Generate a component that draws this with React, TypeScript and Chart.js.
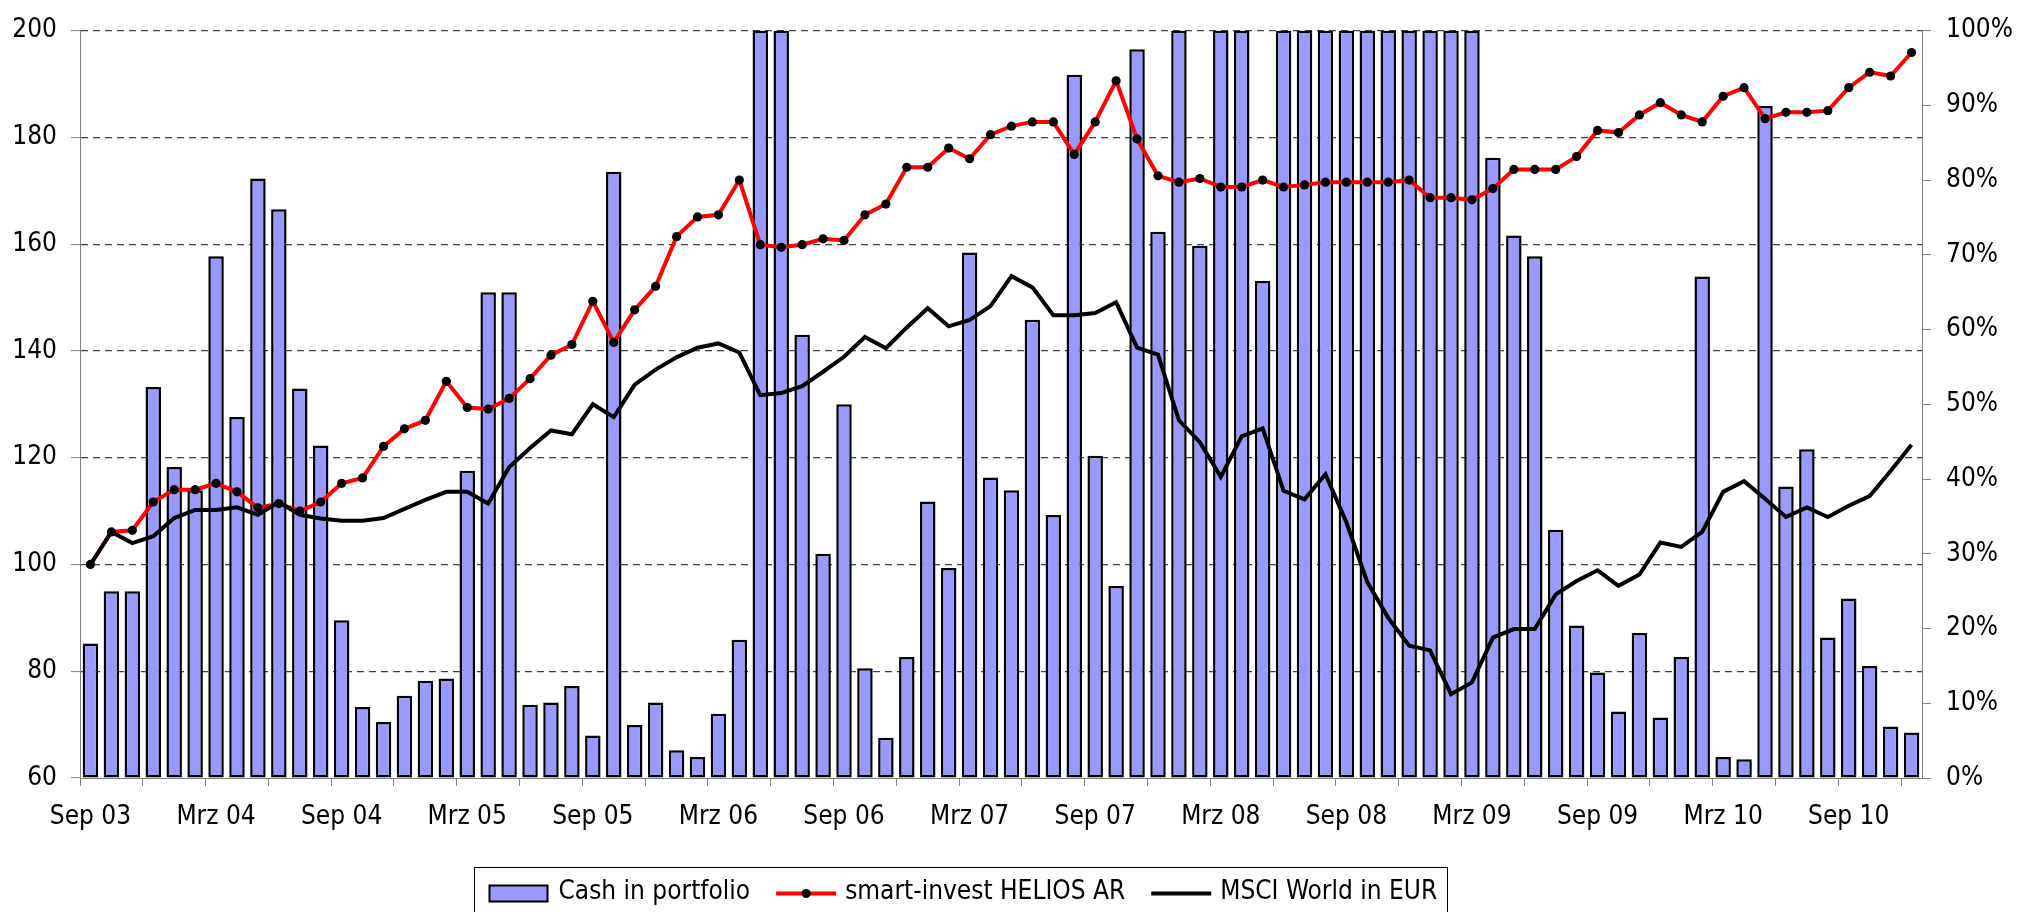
import React, { useEffect, useRef } from 'react';
import { Chart, registerables } from 'chart.js';

Chart.register(...registerables);

// ---------- categories ----------
const MONTH_NAMES = ['Jan', 'Feb', 'Mrz', 'Apr', 'Mai', 'Jun', 'Jul', 'Aug', 'Sep', 'Okt', 'Nov', 'Dez'];
const START_YEAR = 2003;
const START_MONTH = 8; // September
const MONTH_COUNT = 88; // Sep 03 .. Dez 10
const categories: string[] = Array.from({ length: MONTH_COUNT }, (_, i) => {
  const m = (START_MONTH + i) % 12;
  const y = START_YEAR + Math.floor((START_MONTH + i) / 12);
  return `${MONTH_NAMES[m]} ${String(y % 100).padStart(2, '0')}`;
});

// ---------- series ----------
const cashPct: number[] = [
  18, 25, 25, 52.3, 41.6, 38.5, 69.8, 48.3, 80.2, 76.1, 52.1, 44.5,
  21.1, 9.5, 7.5, 11.0, 13.0, 13.3, 41.1, 65.0, 65.0, 9.8, 10.1, 12.3,
  5.7, 81.1, 7.1, 10.1, 3.7, 2.8, 8.6, 18.5, 100, 100, 59.3, 30.0,
  50.0, 14.7, 5.4, 16.2, 37.0, 28.1, 70.3, 40.2, 38.5, 61.3, 35.2, 94.1,
  43.1, 25.7, 97.5, 73.1, 100, 71.2, 100, 100, 66.5, 100, 100, 100,
  100, 100, 100, 100, 100, 100, 100, 83.0, 72.6, 69.8, 33.2, 20.4,
  14.1, 8.9, 19.4, 8.1, 16.2, 67.1, 2.8, 2.5, 89.9, 39.0, 44.0, 18.8,
  24.0, 15.0, 6.9, 6.1,
];

const helios: number[] = [
  100, 106.1, 106.4, 111.7, 114.0, 114.0, 115.2, 113.6, 110.6, 111.4, 110.0, 111.7,
  115.2, 116.2, 122.1, 125.4, 127.0, 134.3, 129.4, 129.1, 131.1, 134.8, 139.2, 141.2,
  149.3, 141.6, 147.7, 152.1, 161.4, 165.1, 165.5, 172.0, 159.9, 159.4, 159.9, 161.0,
  160.7, 165.5, 167.5, 174.4, 174.4, 178.0, 176.0, 180.5, 182.1, 182.9, 182.9, 176.8,
  182.9, 190.6, 179.7, 172.8, 171.6, 172.3, 170.7, 170.7, 172.0, 170.7, 171.1, 171.6,
  171.6, 171.6, 171.6, 172.0, 168.7, 168.7, 168.3, 170.4, 174.0, 174.0, 174.0, 176.4,
  181.3, 180.9, 184.2, 186.5, 184.2, 182.9, 187.7, 189.3, 183.5, 184.7, 184.7, 185.0,
  189.3, 192.2, 191.5, 195.9,
];

const msci: number[] = [
  100, 106.1, 104.0, 105.3, 108.7, 110.2, 110.2, 110.7, 109.3, 111.7, 109.3, 108.6,
  108.2, 108.2, 108.7, 110.4, 112.1, 113.6, 113.6, 111.4, 118.2, 121.8, 125.1, 124.4,
  130.0, 127.6, 133.7, 136.5, 138.8, 140.6, 141.4, 139.7, 131.7, 132.1, 133.4, 136.1,
  138.9, 142.6, 140.5, 144.4, 148.0, 144.6, 145.8, 148.4, 154.0, 151.9, 146.7, 146.7,
  147.1, 149.1, 140.6, 139.3, 127.0, 122.9, 116.4, 124.0, 125.5, 113.8, 112.2, 116.9,
  107.9, 96.7, 90.0, 84.8, 83.9, 75.7, 77.9, 86.3, 87.9, 87.9, 94.4, 96.9,
  98.9, 96.0, 98.1, 104.1, 103.3, 106.1, 113.6, 115.6, 112.3, 108.9, 110.7, 108.9,
  111.0, 112.8, 117.5, 122.4,
];

const seriesNames = ['Cash in portfolio', 'smart-invest HELIOS AR', 'MSCI World in EUR'];

// ---------- styling ----------
const FONT_FAMILY = "'DejaVu Sans Condensed', 'Liberation Sans Narrow', 'DejaVu Sans', sans-serif";
const FONT_SIZE = 26;
const AXIS_GRAY = '#808080';
const GRID_GRAY = '#404040';
const BAR_FILL = '#9999FF';
const RED = '#FF0000';
const LEGEND_CENTER_X = 960;
const LEGEND_TOP = 867.5;

const boxedLegend = {
  id: 'boxedLegend',
  afterDraw(chart: any) {
    const ctx: CanvasRenderingContext2D = chart.ctx;
    const datasets = chart.data.datasets;
    ctx.save();
    ctx.font = `${FONT_SIZE}px ${FONT_FAMILY}`;
    const iconW = 60;
    const gapIconText = 9;
    const gapItems = 26;
    const padL = 15;
    const padR = 10;
    const widths = datasets.map((d: any) => ctx.measureText(d.label).width);
    const total =
      padL + padR + widths.reduce((s: number, w: number) => s + iconW + gapIconText + w, 0) + gapItems * (datasets.length - 1);
    const left = Math.round(LEGEND_CENTER_X - total / 2) + 0.5;
    ctx.strokeStyle = '#000';
    ctx.lineWidth = 1;
    ctx.strokeRect(left, LEGEND_TOP, Math.round(total), 120);
    const cy = LEGEND_TOP + 26;
    let x = left + padL;
    datasets.forEach((d: any, i: number) => {
      if (d.type === 'bar') {
        ctx.fillStyle = d.backgroundColor;
        ctx.fillRect(x, cy - 8, iconW - 2, 16);
        ctx.strokeStyle = '#000';
        ctx.lineWidth = 2;
        ctx.strokeRect(x, cy - 8, iconW - 2, 16);
      } else {
        ctx.strokeStyle = d.borderColor;
        ctx.lineWidth = d.borderWidth;
        ctx.beginPath();
        ctx.moveTo(x, cy);
        ctx.lineTo(x + iconW, cy);
        ctx.stroke();
        if (d.pointRadius > 0) {
          ctx.fillStyle = d.pointBackgroundColor;
          ctx.beginPath();
          ctx.arc(x + iconW / 2, cy, d.pointRadius, 0, Math.PI * 2);
          ctx.fill();
        }
      }
      ctx.fillStyle = '#000';
      ctx.textAlign = 'left';
      ctx.textBaseline = 'middle';
      ctx.fillText(d.label, x + iconW + gapIconText, cy - 1);
      x += iconW + gapIconText + widths[i] + gapItems;
    });
    ctx.restore();
  },
};

export default function App() {
  const canvasRef = useRef<HTMLCanvasElement | null>(null);

  useEffect(() => {
    if (!canvasRef.current) return;
    const tickFont = { family: FONT_FAMILY, size: FONT_SIZE };
    const chart = new Chart(canvasRef.current, {
      type: 'bar',
      data: {
        labels: categories,
        datasets: [
          {
            type: 'bar',
            label: seriesNames[0],
            data: cashPct,
            yAxisID: 'y1',
            backgroundColor: BAR_FILL,
            borderColor: '#000',
            borderWidth: 2.5,
            borderSkipped: false,
            categoryPercentage: 1,
            barPercentage: 0.74,
            order: 3,
          } as any,
          {
            type: 'line',
            label: seriesNames[1],
            data: helios,
            yAxisID: 'y',
            borderColor: RED,
            borderWidth: 4,
            pointRadius: 4.6,
            pointBackgroundColor: '#000',
            pointBorderColor: '#000',
            pointBorderWidth: 0,
            tension: 0,
            order: 2,
          } as any,
          {
            type: 'line',
            label: seriesNames[2],
            data: msci,
            yAxisID: 'y',
            borderColor: '#000',
            borderWidth: 4,
            pointRadius: 0,
            tension: 0,
            order: 1,
          } as any,
        ],
      },
      options: {
        responsive: false,
        animation: false,
        events: [],
        layout: { padding: { left: 0, right: 0, top: 22, bottom: 0 } },
        plugins: {
          legend: { display: false },
          tooltip: { enabled: false },
        },
        scales: {
          x: {
            type: 'category',
            offset: true,
            grid: {
              offset: true,
              drawOnChartArea: false,
              drawTicks: true,
              tickLength: 8,
              color: (c: any) => (c.index !== undefined && c.index % 3 === 0 ? AXIS_GRAY : 'rgba(0,0,0,0)'),
            },
            border: { display: true, color: AXIS_GRAY, width: 1 },
            ticks: {
              autoSkip: false,
              maxRotation: 0,
              minRotation: 0,
              padding: 16,
              color: '#000',
              font: tickFont,
              callback: (_v: any, i: number) => (i % 6 === 0 ? categories[i] : ''),
            },
            afterFit: (s: any) => {
              s.height = 134;
            },
          },
          y: {
            type: 'linear',
            position: 'left',
            min: 60,
            max: 200,
            ticks: { stepSize: 20, padding: 14, color: '#000', font: tickFont },
            grid: {
              color: (c: any) => (c.tick && c.tick.value === 60 ? 'rgba(0,0,0,0)' : GRID_GRAY),
              tickColor: AXIS_GRAY,
              lineWidth: 1.2,
              tickWidth: 1,
              tickLength: 9,
            },
            border: { display: true, color: AXIS_GRAY, width: 1, dash: [7, 5] },
            afterFit: (s: any) => {
              s.width = 80;
            },
          },
          y1: {
            type: 'linear',
            position: 'right',
            min: 0,
            max: 100,
            ticks: {
              stepSize: 10,
              padding: 15,
              color: '#000',
              font: tickFont,
              callback: (v: any) => `${v}%`,
            },
            grid: { drawOnChartArea: false, tickColor: AXIS_GRAY, tickLength: 9 },
            border: { display: true, color: AXIS_GRAY, width: 1 },
            afterFit: (s: any) => {
              s.width = 111;
            },
          },
        },
      },
      plugins: [boxedLegend],
    });
    return () => chart.destroy();
  }, []);

  return (
    <div style={{ position: 'absolute', left: 0, top: 0, width: 2033, height: 912, overflow: 'hidden', background: '#fff' }}>
      <canvas ref={canvasRef} width={2033} height={912} style={{ width: 2033, height: 912, display: 'block' }} />
    </div>
  );
}
